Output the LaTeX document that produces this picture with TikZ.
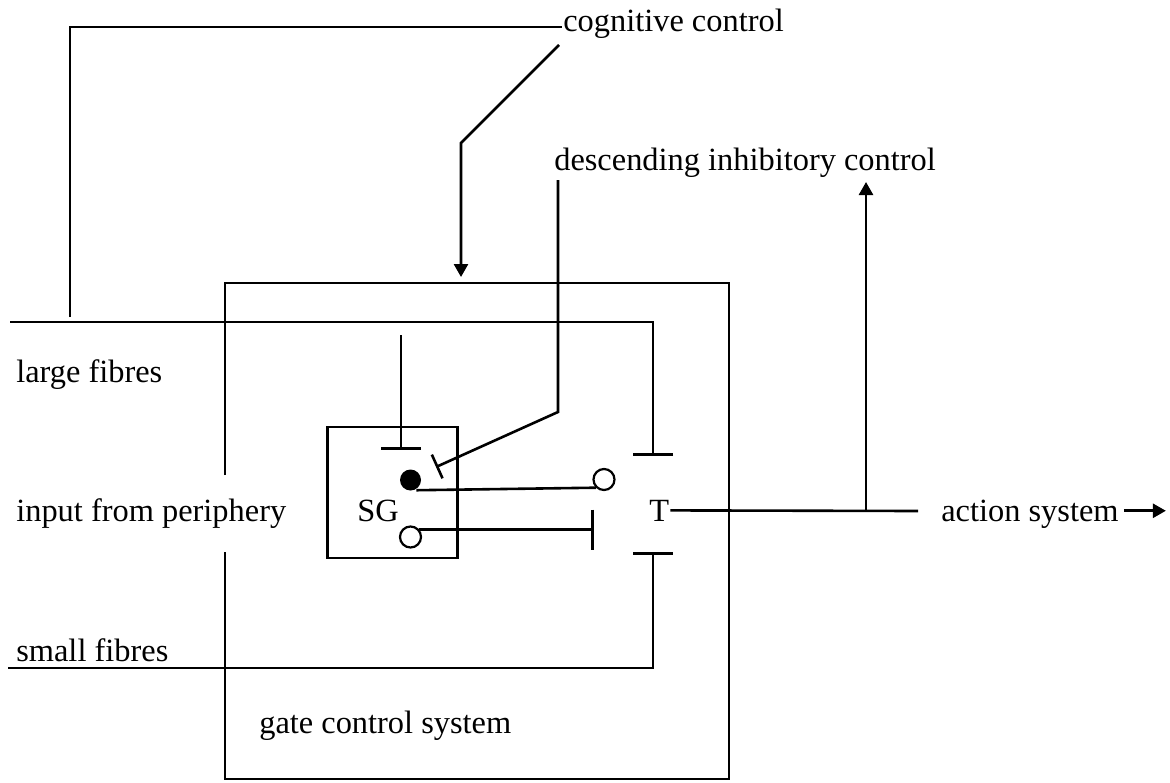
\documentclass[tikz,border=0pt]{standalone}
\usepackage{fontspec}
\setmainfont{Liberation Serif}
\usetikzlibrary{arrows.meta}
\begin{document}
\begin{tikzpicture}[x=1pt,y=-1pt, line width=2.6pt,
  lbl/.style={inner sep=0pt, anchor=base west, font=\fontsize{32.4}{38}\selectfont},
  tee/.style={-{Bar[width=#1]}},
  head/.style={-{Triangle[length=13pt,width=14pt]}},
  ring/.style={circle, draw, line width=2.2pt, minimum size=21pt, inner sep=0pt},
  blob/.style={circle, fill, inner sep=0pt, minimum size=21pt}
]
\useasboundingbox (0,0) rectangle (1170,782);

% labels
\node[lbl] (cog)   at (562,31)  {cognitive control};
\node[lbl] (desc)  at (553,170) {descending inhibitory control};
\node[lbl] (large) at (15,382)  {large fibres};
\node[lbl] (input) at (15,521)  {input from periphery};
\node[lbl] (small) at (15,661)  {small fibres};
\node[lbl] (gcs)   at (258,733) {gate control system};
\node[lbl] (sgl)   at (356,521) {SG};
\node[lbl] (T)     at (648,521) {T};
\node[lbl] (act)   at (940,521) {action system};

% SG box and cells
\node[draw, minimum width=130pt, minimum height=131pt, inner sep=0pt] (sg) at (392.5,492.5) {};
\node[blob] (dot) at (410.5,480) {};
\node[ring] (o1) at (604,479.5) {};
\node[ring] (o2) at (410.5,537) {};

% coordinates
\coordinate (lfL) at (10,322);
\coordinate (lfJ) at (70,317);
\coordinate (lfT) at (653,456);
\coordinate (sfL) at (8,668);
\coordinate (sfT) at (653,552);
\coordinate (gNW) at (225,283);
\coordinate (gNE) at (729,283);
\coordinate (gSE) at (729,779);
\coordinate (gSW) at (225,779);
\coordinate (gGapTop) at (225,475);
\coordinate (gGapBot) at (225,552);
\coordinate (cogBend) at (461,143);
\coordinate (cogIn) at (461,283);
\coordinate (descBend) at (558,412);
\coordinate (descEnd) at (436,467);
\coordinate (sgTop) at (401,335);
\coordinate (sgBar) at (401,450);
\coordinate (inhT) at (594,528);
\coordinate (tEnd) at (918,511);
\coordinate (branch) at (866,511);
\coordinate (upEnd) at (866,182);

% gate control system box (gap on the left side)
\draw (gGapTop) -- (gNW) -- (gNE) -- (gSE) -- (gSW) -- (gGapBot);

% cognitive control
\draw (lfJ) |- ([yshift=4pt]cog.base west);
\draw[head, shorten >=6pt] ([shift={(-3pt,-14pt)}]cog.base west) -- (cogBend) -- (cogIn);

% descending inhibitory control
\draw[tee=26pt] ([shift={(5pt,-10pt)}]desc.base west) -- (descBend) -- (descEnd);

% large and small fibres
\draw[tee=40pt] (lfL) -| (lfT);
\draw[tee=40pt] (sfL) -| (sfT);
\draw[tee=40pt] (sgTop) -- (sgBar);

% SG to T
\draw (dot.-60) -- (o1.-135);
\draw[tee=40pt] (o2.40) -- (o2.40 -| inhT);

% output
\draw (T.east) -- (tEnd);
\draw[head] (branch) -- (upEnd);
\draw[head] ([shift={(4pt,3pt)}]act.east) -- ++(42,0);
\end{tikzpicture}
\end{document}
